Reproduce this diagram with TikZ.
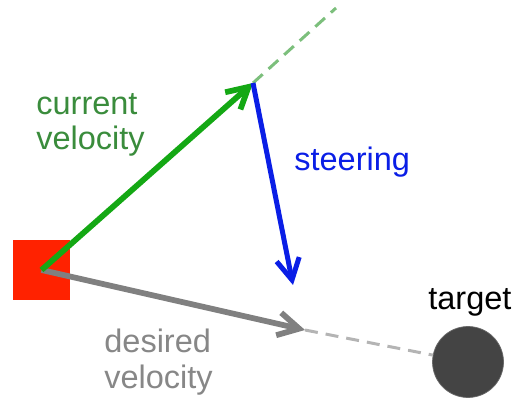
\documentclass[tikz,border=0pt]{standalone}
\usepackage{fontspec}
\setmainfont{Liberation Sans}
\usepackage{xcolor}
\definecolor{cAgent}{HTML}{FF2200}
\definecolor{cCur}{HTML}{14A814}
\definecolor{cCurText}{HTML}{3A8C3C}
\definecolor{cCurDash}{HTML}{7CBF7C}
\definecolor{cSteer}{HTML}{0A1EE6}
\definecolor{cDes}{HTML}{808080}
\definecolor{cDesText}{HTML}{878787}
\definecolor{cDesDash}{HTML}{B4B4B4}
\definecolor{cTarget}{HTML}{444444}
\usetikzlibrary{arrows.meta}
\tikzset{
  node-agent/.style={draw=none,fill=cAgent,minimum width=11.2mm,minimum height=12mm,inner sep=0pt},
  node-target/.style={circle,draw=cTarget!80,fill=cTarget,minimum size=14.2mm,inner sep=0pt},
  node-label/.style={align=left,anchor=base west,inner sep=0pt,
    font=\fontsize{18.5}{20.4}\selectfont},
  arrow/.style={-{Straight Barb[length=4.2mm,width=4.6mm]},line width=1.15mm},
  arrow-vel/.style={arrow,draw=cCur},
  arrow-steer/.style={arrow,draw=cSteer,line width=1mm},
  arrow-des/.style={arrow,draw=cDes},
  guide/.style={line width=0.6mm,dash pattern=on 2.6mm off 1.6mm},
}

\begin{document}
\begin{tikzpicture}[x=0.2mm,y=-0.2mm]
  \useasboundingbox (0,0) rectangle (512,401);
  \node[node-agent] (agent) at (41.5,270) {};
  \node[node-target] (goal) at (468,362) {};
  \coordinate (cur) at (253,83);
  \coordinate (ahead) at (336,8);
  \coordinate (steer) at (293,285);
  \coordinate (des) at (305,330);
  % guides
  \draw[guide,cCurDash] (cur) -- (ahead);
  \draw[guide,cDesDash] (des) -- (goal);
  % vectors
  \draw[arrow-des] (agent.center) -- (des);
  \draw[arrow-vel] (agent.center) -- (cur);
  \draw[arrow-steer] (cur) -- (steer);
  % labels (base = last line)
  \node[node-label,text=cCurText] (lcur) at (36,150) {current\\velocity};
  \node[node-label,text=cSteer] (lsteer) at (294,171) {steering};
  \node[node-label,text=cDesText] (ldes) at (104,388) {desired\\velocity};
  \node[node-label,text=black] (lgoal) at (428,310) {target};
\end{tikzpicture}
\end{document}
